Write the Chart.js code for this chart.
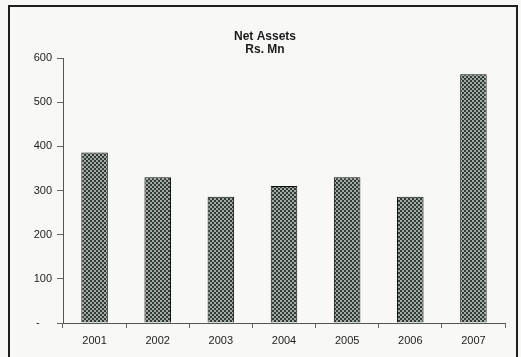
<!DOCTYPE html>
<html>
<head>
<meta charset="utf-8">
<script src="https://cdn.jsdelivr.net/npm/chart.js@4/dist/chart.umd.min.js"></script>
<style>
  html, body { margin: 0; padding: 0; background: #f8f9f7; }
  #wrap { width: 521px; height: 357px; }
</style>
</head>
<body>
<div id="wrap"><canvas id="assets" width="521" height="357"></canvas></div>
<script>
const years = ['2001', '2002', '2003', '2004', '2005', '2006', '2007'];
const netAssets = [386, 330, 286, 310, 330, 286, 563];
const titleLines = ['Net Assets', 'Rs. Mn'];

// small checker tile used as the bar fill
function checkerFill() {
    const tile = document.createElement('canvas');
    tile.width = 4;
    tile.height = 4;
    const t = tile.getContext('2d');
    t.fillStyle = '#323a34';
    t.fillRect(0, 0, 4, 4);
    t.fillStyle = '#a3aca4';
    t.fillRect(0, 0, 2, 2);
    t.fillRect(2, 2, 2, 2);
    return t.createPattern(tile, 'repeat');
}

// outer box and the two-line heading
const frame = {
    id: 'frame',
    afterDraw(chart) {
        const ctx = chart.ctx;
        ctx.save();
        ctx.strokeStyle = '#1e1e1e';
        ctx.lineWidth = 2;
        ctx.strokeRect(9, 6, 508, 360);

        ctx.fillStyle = '#1a1a1a';
        ctx.font = 'bold 12px "Liberation Sans"';
        ctx.textAlign = 'center';
        ctx.textBaseline = 'middle';
        titleLines.forEach((line, i) => ctx.fillText(line, 265, 37 + i * 13));
        ctx.restore();
    }
};

const tickFont = { family: 'Liberation Sans', size: 11 };

new Chart(document.getElementById('assets'), {
    type: 'bar',
    data: {
        labels: years,
        datasets: [{
            data: netAssets,
            backgroundColor: checkerFill(),
            borderColor: '#111',
            borderWidth: 1,
            categoryPercentage: 1,
            barPercentage: 0.42
        }]
    },
    options: {
        responsive: false,
        animation: false,
        layout: { padding: { left: 0, right: 16, top: 58, bottom: 0 } },
        plugins: {
            legend: { display: false },
            tooltip: { enabled: false },
            title: { display: false }
        },
        scales: {
            x: {
                grid: { display: true, drawOnChartArea: false, tickLength: 5, color: '#666', offset: true },
                border: { color: '#555', width: 1 },
                ticks: { color: '#222', font: tickFont, padding: 6 },
                afterFit(scale) { scale.height = 34; }
            },
            y: {
                min: 0,
                max: 600,
                grid: { display: true, drawOnChartArea: false, tickLength: 6, color: '#666' },
                border: { color: '#555', width: 1 },
                ticks: {
                    stepSize: 100,
                    color: '#222',
                    font: tickFont,
                    padding: 5,
                    callback: v => v === 0 ? '-    ' : v
                },
                afterFit(scale) { scale.width = 63; }
            }
        }
    },
    plugins: [frame]
});
</script>
</body>
</html>
